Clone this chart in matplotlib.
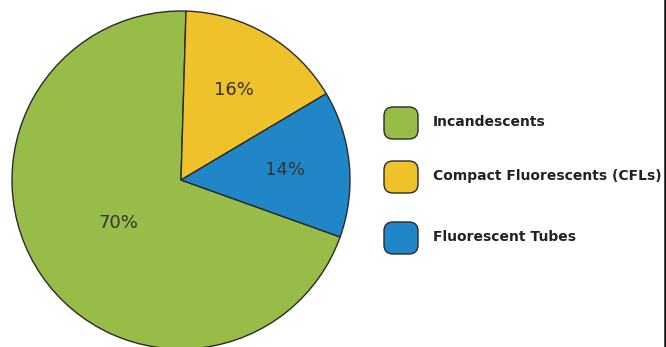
import matplotlib
matplotlib.use("Agg")
import matplotlib.pyplot as plt
from matplotlib.patches import FancyBboxPatch
from matplotlib.lines import Line2D

labels = ["Incandescents", "Compact Fluorescents (CFLs)", "Fluorescent Tubes"]
shares = [70, 16, 14]
colors = ["#97bd48", "#efc12b", "#2186c7"]


def main():
    fig = plt.figure(figsize=(6.66, 3.47), dpi=100)
    ax = fig.add_axes([0, 0, 1, 1])

    wedges, texts, autotexts = ax.pie(
        shares, colors=colors, center=(181, 167), radius=169,
        startangle=-19.7, counterclock=False,
        autopct="%d%%", pctdistance=0.62,
        wedgeprops=dict(edgecolor="#2a2a2a", linewidth=1.0),
        textprops=dict(fontsize=13, color="#333333"))

    # the big slice has its label pulled in toward the centre
    x, y = autotexts[0].get_position()
    k = 0.45 / 0.62
    autotexts[0].set_position((181 + (x - 181) * k, 167 + (y - 167) * k))

    ax.set_aspect("auto")
    ax.set_xlim(0, 666)
    ax.set_ylim(0, 347)
    ax.axis("off")

    # legend drawn by hand: rounded swatches + labels
    ys = [224, 170, 109]
    for lab, col, yy in zip(labels, colors, ys):
        box = FancyBboxPatch((384, yy - 16), 34, 32,
                             boxstyle="round,pad=0,rounding_size=9",
                             facecolor=col, edgecolor="#2a2a2a", linewidth=1.0)
        ax.add_patch(box)
        ax.text(433, yy + 1, lab, fontsize=10, fontweight="bold",
                color="#222222", va="center", ha="left",
                family=["Liberation Sans Narrow", "DejaVu Sans"], clip_on=True)

    # frame line on the right edge
    fig.add_artist(Line2D([664.5 / 666, 664.5 / 666], [0, 1],
                          color="#111111", linewidth=1.8))

    fig.savefig("out.png", dpi=100)


if __name__ == "__main__":
    main()
